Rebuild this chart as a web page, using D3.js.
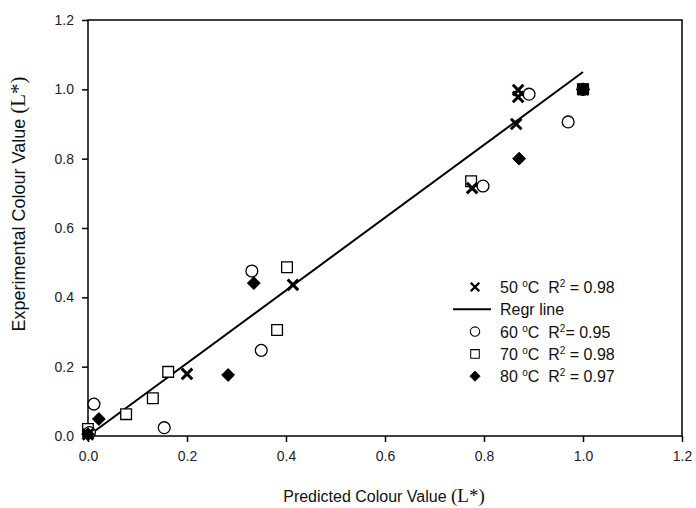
<!DOCTYPE html>
<html>
<head>
  <title>Colour Value Chart</title>
  <script src="https://cdn.jsdelivr.net/npm/d3@7"></script>
  <style>
    body { margin: 0; background: #fff; }
    text { font-family: Arial, "Liberation Sans", sans-serif; }
  </style>
</head>
<body>
  <div id="chart"></div>
  <script>
    // data
    const xTicks = [0, 0.2, 0.4, 0.6, 0.8, 1.0, 1.2];
    const yTicks = [0, 0.2, 0.4, 0.6, 0.8, 1.0, 1.2];

    const s50 = [[0, 0.005], [0.2, 0.179], [0.414, 0.436], [0.776, 0.715], [0.865, 0.90], [0.869, 0.978], [0.869, 0.998], [1.0, 1.0]];
    const s60 = [[0.003, 0.01], [0.012, 0.092], [0.154, 0.024], [0.331, 0.476], [0.35, 0.247], [0.798, 0.721], [0.891, 0.986], [0.97, 0.906], [1.0, 1.0]];
    const s70 = [[0, 0.02], [0.077, 0.063], [0.131, 0.109], [0.162, 0.185], [0.382, 0.306], [0.402, 0.487], [0.774, 0.735], [1.0, 1.0]];
    const s80 = [[0, 0.005], [0.022, 0.049], [0.283, 0.176], [0.335, 0.441], [0.871, 0.80], [1.0, 1.0]];
    const regrLine = [[0, 0], [1.0, 1.05]];

    const width = 696, height = 508;
    const margins = { top: 20, right: 14, bottom: 72, left: 88 };

    const x = d3.scaleLinear().domain([0, 1.2]).range([margins.left, width - margins.right]);
    const y = d3.scaleLinear().domain([0, 1.2]).range([height - margins.bottom, margins.top]);

    const svg = d3.select("#chart").append("svg")
        .attr("width", width)
        .attr("height", height);

    // frame
    svg.append("rect")
        .attr("x", x(0)).attr("y", y(1.2))
        .attr("width", x(1.2) - x(0)).attr("height", y(0) - y(1.2))
        .attr("fill", "none").attr("stroke", "#000").attr("stroke-width", 1.5);

    // axes
    const xAxis = svg.append("g")
        .attr("transform", `translate(0,${y(0)})`)
        .call(d3.axisBottom(x).tickValues(xTicks).tickFormat(d3.format(".1f")).tickSize(6).tickPadding(9));
    const yAxis = svg.append("g")
        .attr("transform", `translate(${x(0)},0)`)
        .call(d3.axisLeft(y).tickValues(yTicks).tickFormat(d3.format(".1f")).tickSize(6).tickPadding(8));
    [xAxis, yAxis].forEach(g => {
      g.select(".domain").remove();
      g.selectAll(".tick line").attr("stroke", "#000").attr("stroke-width", 1.5);
      g.selectAll(".tick text")
          .style("font-family", "Arial, 'Liberation Sans', sans-serif")
          .style("font-size", "14px")
          .attr("fill", "#222");
    });

    // regression line
    svg.append("path")
        .datum(regrLine)
        .attr("d", d3.line().x(d => x(d[0])).y(d => y(d[1])))
        .attr("fill", "none").attr("stroke", "#000").attr("stroke-width", 2);

    // symbol drawers
    const cross = d3.symbol().type(d3.symbolX).size(75);
    const circle = d3.symbol().type(d3.symbolCircle).size(110);
    const square = d3.symbol().type(d3.symbolSquare).size(115);
    const diamond = d3.symbol().type(d3.symbolDiamond2).size(105);

    function drawSeries(data, sym, fill, stroke, sw) {
      svg.append("g").selectAll("path")
          .data(data)
          .enter().append("path")
          .attr("transform", d => `translate(${x(d[0])},${y(d[1])})`)
          .attr("d", sym())
          .attr("fill", fill)
          .attr("stroke", stroke)
          .attr("stroke-width", sw);
    }
    drawSeries(s70, square, "#fff", "#000", 1.3);
    drawSeries(s60, circle, "#fff", "#000", 1.3);
    drawSeries(s80, diamond, "#000", "#000", 1);
    drawSeries(s50, cross, "none", "#000", 3);

    // legend
    const legend = [
      { t: "50", eq: " = 0.98", sym: cross, fill: "none", sw: 3 },
      { t: null, label: "Regr line" },
      { t: "60", eq: "= 0.95", sym: circle, fill: "#fff", sw: 1.3 },
      { t: "70", eq: " = 0.98", sym: square, fill: "#fff", sw: 1.3 },
      { t: "80", eq: " = 0.97", sym: diamond, fill: "#000", sw: 1 }
    ];
    const lg = svg.append("g").attr("transform", "translate(0,287)");
    legend.forEach((d, i) => {
      const row = lg.append("g").attr("transform", `translate(0,${i * 22.3})`);
      if (d.t === null) {
        row.append("line").attr("x1", 453).attr("x2", 491).attr("y1", 0).attr("y2", 0)
            .attr("stroke", "#000").attr("stroke-width", 2);
        row.append("text").attr("x", 500).attr("y", 6).style("font-size", "16px").attr("fill", "#111").text("Regr line");
        return;
      }
      row.append("path").attr("transform", "translate(475,0) scale(0.8)")
          .attr("d", d.sym()).attr("fill", d.fill).attr("stroke", "#000").attr("stroke-width", d.sw);
      const t = row.append("text").attr("x", 500).attr("y", 6)
          .style("font-size", "16px").style("white-space", "pre").attr("fill", "#111");
      t.append("tspan").text(d.t + " ");
      t.append("tspan").attr("dy", -6).style("font-size", "10px").text("o");
      t.append("tspan").attr("dy", 6).text("C  R");
      t.append("tspan").attr("dy", -6).style("font-size", "10px").text("2");
      t.append("tspan").attr("dy", 6).text(d.eq);
    });

    // axis titles
    const xt = svg.append("text")
        .attr("x", 384).attr("y", 502)
        .attr("text-anchor", "middle")
        .style("font-size", "16px").attr("fill", "#111");
    xt.append("tspan").text("Predicted Colour Value ");
    xt.append("tspan").style("font-family", "'Liberation Serif', 'Times New Roman', serif").style("font-size", "19px").text("(L*)");

    const yt = svg.append("text")
        .attr("transform", "translate(25,204) rotate(-90)")
        .attr("text-anchor", "middle")
        .style("font-size", "18px").attr("fill", "#111");
    yt.append("tspan").text("Experimental Colour Value ");
    yt.append("tspan").style("font-family", "'Liberation Serif', 'Times New Roman', serif").style("font-size", "21px").text("(L*)");
  </script>
</body>
</html>
